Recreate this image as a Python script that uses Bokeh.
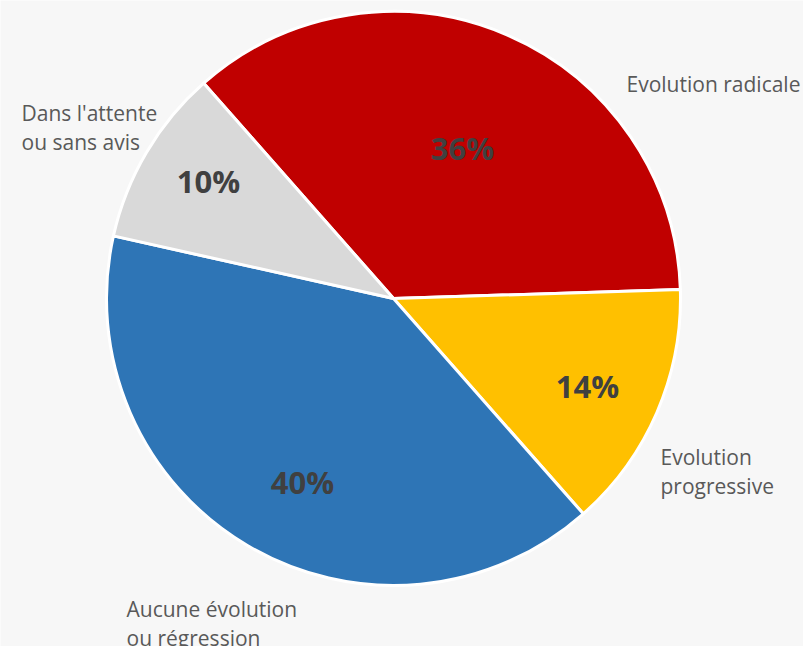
import math
from bokeh.plotting import figure
from bokeh.models import ColumnDataSource
from bokeh.core.properties import value
from bokeh.embed import file_html
from bokeh.resources import INLINE

# ---- data ----
categories = ["Evolution radicale", "Evolution progressive", "Aucune évolution ou régression", "Dans l'attente ou sans avis"]
shares = [36, 14, 40, 10]
pct_labels = ["36%", "14%", "40%", "10%"]
colors = ["#C00000", "#FFC000", "#2E75B6", "#D9D9D9"]
label_lines = [["Evolution radicale"], ["Evolution", "progressive"], ["Aucune évolution", "ou régression"], ["Dans l'attente", "ou sans avis"]]

# ---- layout ----
W, H = 803, 646
cx, cy_img, R = 393, 298, 287
cy = H - cy_img
start_deg = 131.4  # first slice starts here and runs clockwise

total = sum(shares)
starts, ends = [], []
a = math.radians(start_deg)
for s in shares:
    span = 2 * math.pi * s / total
    starts.append(a - span)
    ends.append(a)
    a -= span

p = figure(width=W, height=H, x_range=(0, W), y_range=(0, H),
           output_backend="svg", toolbar_location=None, min_border=0)
p.axis.visible = False
p.grid.visible = False
p.outline_line_color = None
p.background_fill_color = "#F7F7F7"
p.border_fill_color = "#F7F7F7"

src = ColumnDataSource(dict(start=starts, end=ends, color=colors))
p.wedge(x=cx, y=cy, radius=R, start_angle="start", end_angle="end",
        fill_color="color", line_color="white", line_width=3, source=src)

# percentage label centres (image coords)
pct_pos = [(462, 147), (587, 385), (302, 481), (208, 180)]
p.text(x=[x for x, y in pct_pos], y=[H - y for x, y in pct_pos],
       text=pct_labels, text_font=value("Open Sans"), text_font_style="bold",
       text_font_size="31px", text_color="#404040", text_align="center",
       text_baseline="middle")

# category labels: left x and centre y of first line (image coords)
label_anchor = [(626, 83), (660, 456), (126, 608), (21, 112)]
line_h = 29.5
xs, ys, txt = [], [], []
for (lx, ly), lines in zip(label_anchor, label_lines):
    for i, t in enumerate(lines):
        xs.append(lx)
        ys.append(H - (ly + i * line_h))
        txt.append(t)
p.text(x=xs, y=ys, text=txt, text_font=value("Open Sans"), text_font_size="21px",
       text_color="#595959", text_align="left", text_baseline="middle")

open("out.html", "w").write(file_html(p, INLINE))
